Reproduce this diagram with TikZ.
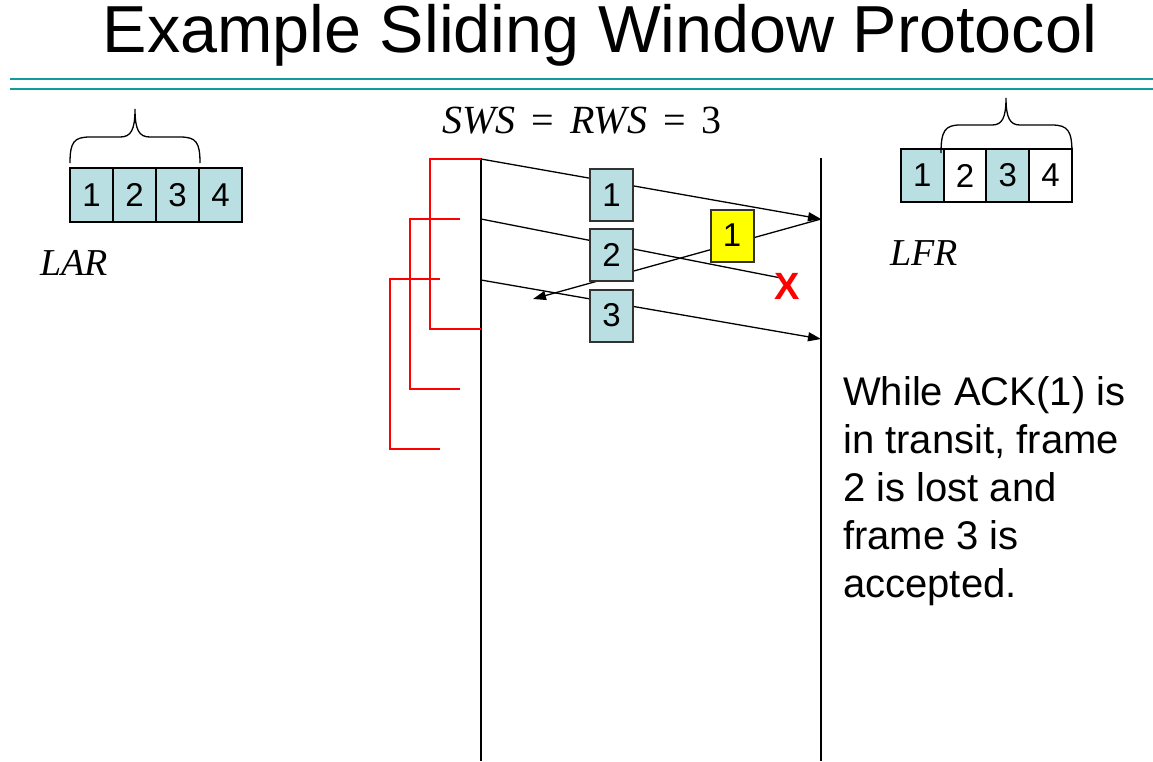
\documentclass[tikz,border=0pt]{standalone}
\usepackage{fontspec}
\setmainfont{Liberation Sans}
\newfontfamily\serifmath{Liberation Serif}
\usetikzlibrary{arrows.meta}

\definecolor{ruleteal}{RGB}{20,156,156}
\definecolor{framefill}{RGB}{185,223,227}
\definecolor{ackfill}{RGB}{255,255,0}
\definecolor{boxline}{RGB}{50,50,50}

\begin{document}
\begin{tikzpicture}[x=1pt,y=-1pt,
  rule/.style={draw=ruleteal,line width=2.4pt},
  timeline/.style={draw=black,line width=1.3pt},
  msg/.style={draw=black,line width=1.3pt},
  msgarrow/.style={msg,-{Triangle[length=13pt,width=9pt]}},
  timer/.style={draw=red,line width=1.3pt},
  brace/.style={draw=black,line width=1.3pt},
  framebox/.style={draw=boxline,line width=2pt,fill=framefill,
    minimum width=43pt,minimum height=52pt,inner sep=0pt,
    font=\fontsize{33}{39}\selectfont},
  ackbox/.style={framebox,fill=ackfill},
  cell/.style={draw=black,line width=2pt,minimum width=43pt,
    minimum height=54pt,inner sep=0pt,font=\fontsize{33}{39}\selectfont},
  fullcell/.style={cell,fill=framefill},
  emptycell/.style={cell,fill=white},
  label/.style={inner sep=0pt,font=\serifmath\itshape\fontsize{38}{44}\selectfont}
]
\useasboundingbox (0,0) rectangle (1153,761);

% heading and its double rule
\node[anchor=base,inner sep=0pt,font=\fontsize{66.5}{80}\selectfont] (title) at (600,52) {Example Sliding Window Protocol};
\draw[rule] (10,79) -- (1153,79);
\draw[rule] (10,89) -- (1153,89);

% window sizes
\node[inner sep=0pt,font=\serifmath\fontsize{40}{46}\selectfont] (ws) at (582,121)
  {\textit{SWS}\hspace{0.4em}=\hspace{0.4em}\textit{RWS}\hspace{0.4em}=\hspace{0.4em}3};

% sender and receiver time lines
\coordinate (sTop) at (481,158);
\coordinate (sBot) at (481,761);
\coordinate (rTop) at (821,158);
\coordinate (rBot) at (821,761);
\draw[timeline] (sTop) -- (sBot);
\draw[timeline] (rTop) -- (rBot);

% send and receive events
\coordinate (s1) at (481,159);
\coordinate (s2) at (481,219);
\coordinate (s3) at (481,280);
\coordinate (r1) at (821,219);
\coordinate (r3) at (821,339);
\coordinate (lost) at (781,278);
\coordinate (ackEnd) at (533,299);

% timeouts started at each send
\draw[timer] (s1) -| (430,329) -- (481,329);
\draw[timer] (460,219) -| (410,389) -- (460,389);
\draw[timer] (440,279) -| (390,449) -- (440,449);

% frames and acknowledgement in flight
\draw[msgarrow] (s1) -- (r1);
\draw[msg] (s2) -- (lost);
\draw[msgarrow] (s3) -- (r3);
\draw[msgarrow] (r1) -- (ackEnd);

\node[framebox] (f1) at (611.5,195) {1};
\node[framebox] (f2) at (611.5,255) {2};
\node[framebox] (f3) at (611.5,315.5) {3};
\node[ackbox] (a1) at (732,235.5) {1};
\node[text=red,inner sep=0pt,font=\bfseries\fontsize{38}{44}\selectfont] (loss) at (787,286) {X};

% sender window
\node[fullcell] (l1) at (91.5,195) {1};
\node[fullcell] (l2) at (134.5,195) {2};
\node[fullcell] (l3) at (177.5,195) {3};
\node[fullcell] (l4) at (220.5,195) {4};
\draw[brace] (70,163) .. controls (70,142) and (74,137) .. (90,137) -- (120,137)
  .. controls (131,137) and (135,130) .. (135,109)
  .. controls (135,130) and (139,137) .. (150,137) -- (180,137)
  .. controls (196,137) and (200,142) .. (200,163);
\node[label] (lar) at (74,263) {LAR};

% receiver window
\node[fullcell,minimum height=53pt] (q1) at (922.4,175.5) {1};
\node[emptycell,minimum height=53pt] (q2) at (965.1,175.5) {2};
\node[fullcell,minimum height=53pt] (q3) at (1007.9,175.5) {3};
\node[emptycell,minimum height=53pt] (q4) at (1050.6,175.5) {4};
\draw[brace] (941,153) .. controls (941,131) and (945,125) .. (960,125) -- (992,125)
  .. controls (1002,125) and (1006,118) .. (1006,98)
  .. controls (1006,118) and (1010,125) .. (1020,125) -- (1052,125)
  .. controls (1068,125) and (1072,131) .. (1072,153);
\node[label] (lfr) at (924,253) {LFR};

% explanation
\node[anchor=north west,align=left,inner sep=0pt,font=\fontsize{40}{48}\selectfont] (note) at (843,376)
  {While ACK(1) is\\in transit, frame\\2 is lost and\\frame 3 is\\accepted.};
\end{tikzpicture}
\end{document}
